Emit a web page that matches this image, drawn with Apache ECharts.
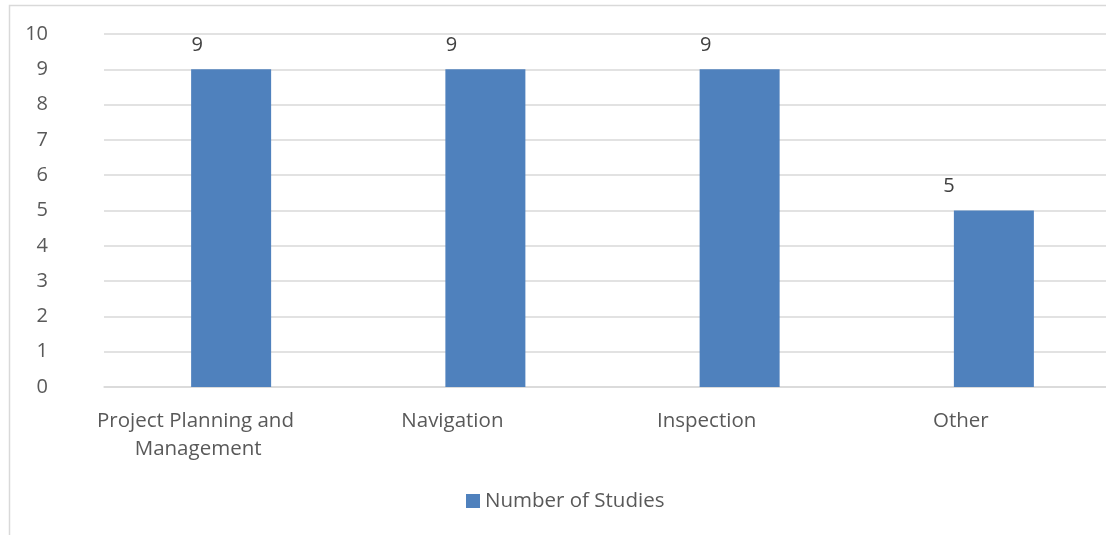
<!DOCTYPE html>
<html>
<head>
<meta charset="utf-8">
<script src="https://cdn.jsdelivr.net/npm/echarts@6/dist/echarts.min.js"></script>
<style>
  html, body { margin: 0; padding: 0; background: #ffffff; }
  #chart { width: 1106px; height: 535px; }
</style>
</head>
<body>
<div id="chart"></div>
<script>
const categories = ["Project Planning and Management", "Navigation", "Inspection", "Other"];
const studyCounts = [9, 9, 9, 5];
const seriesName = "Number of Studies";
const yTicks = { min: 0, max: 10, interval: 1 };

// style-only: horizontal offset of each value label (reference places them left of bar centre)
const labelShiftX = [-34, -34, -34, -45];

const FONT = "Open Sans";
const chart = echarts.init(document.getElementById('chart'), null, { renderer: 'canvas' });

const option = {
  backgroundColor: '#ffffff',
  animation: false,
  graphic: [{
    type: 'rect',
    left: 7, top: 3,
    shape: { width: 1300, height: 700 },
    style: { fill: 'none', stroke: '#d9d9d9', lineWidth: 1.5 },
    silent: true,
    z: -10
  }],
  grid: { left: 104, width: 1017, top: 34, bottom: 148, containLabel: false, outerBoundsMode: 'none' },
  legend: {
    data: [seriesName],
    left: 466,
    top: 490,
    padding: 0,
    itemWidth: 14,
    itemHeight: 14,
    icon: 'rect',
    textStyle: { fontFamily: FONT, fontSize: 20.5, color: '#595959', lineHeight: 22 }
  },
  xAxis: {
    type: 'category',
    data: categories,
    axisLine: { show: true, lineStyle: { color: '#d9d9d9', width: 1.5 } },
    axisTick: { show: false },
    axisLabel: {
      interval: 0,
      margin: 20,
      width: 240,
      overflow: 'break',
      padding: [0, 66, 0, 0],
      fontFamily: FONT,
      fontSize: 20.5,
      lineHeight: 28,
      color: '#595959'
    }
  },
  yAxis: {
    type: 'value',
    min: yTicks.min,
    max: yTicks.max,
    interval: yTicks.interval,
    axisLine: { show: false },
    axisTick: { show: false },
    splitLine: { show: true, lineStyle: { color: '#d9d9d9', width: 1.5 } },
    axisLabel: {
      margin: 56,
      fontFamily: FONT,
      fontSize: 20,
      color: '#595959'
    }
  },
  series: [{
    name: seriesName,
    type: 'bar',
    barWidth: 80,
    itemStyle: { color: '#4f81bd' },
    data: studyCounts.map((v, i) => ({
      value: v,
      label: { offset: [labelShiftX[i], 0] }
    })),
    label: {
      show: true,
      position: 'top',
      distance: 13,
      fontFamily: FONT,
      fontSize: 20,
      lineHeight: 23,
      color: '#404040'
    }
  }]
};

chart.setOption(option);
</script>
</body>
</html>
